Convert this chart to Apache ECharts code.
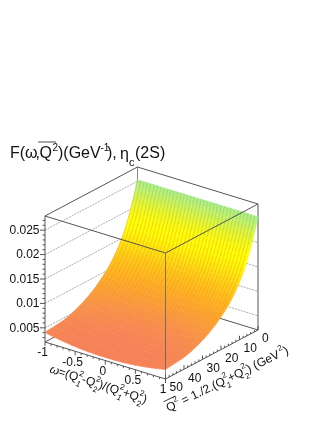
<!DOCTYPE html>
<html>
<head>
<meta charset="utf-8">
<style>html,body{margin:0;padding:0;background:#fff}#main{width:327px;height:423px}</style>
<script src="https://cdn.jsdelivr.net/npm/echarts@6/dist/echarts.min.js"></script>
</head>
<body>
<div id="main"></div>
<script>
// omega bins, left to right
var omegaValues = [-1, -0.9444, -0.8889, -0.8333, -0.7778, -0.7222, -0.6667, -0.6111, -0.5556, -0.5, -0.4444, -0.3889, -0.3333, -0.2778, -0.2222, -0.1667, -0.1111, -0.0556, 0,
    0.0556, 0.1111, 0.1667, 0.2222, 0.2778, 0.3333, 0.3889, 0.4444, 0.5, 0.5556, 0.6111, 0.6667, 0.7222, 0.7778, 0.8333, 0.8889, 0.9444, 1];
var qValues = [0, 1, 2, 3, 4, 5, 6, 7, 8, 9, 10, 12, 14, 16, 18, 20, 23, 26, 29, 32, 36, 40, 45, 50];

// F, in units of 1e-5 GeV^-1, one row per qValues entry
var surfaceValues = [
[2530,2530,2530,2530,2530,2530,2530,2530,2530,2530,2530,2530,2530,2530,2530,2530,2530,2530,2530,2530,2530,2530,2530,2530,2530,2530,2530,2530,2530,2530,2530,2530,2530,2530,2530,2530,2530],
[2370,2369,2368,2367,2366,2365,2364,2364,2363,2363,2362,2362,2361,2361,2360,2360,2360,2360,2360,2360,2360,2360,2360,2361,2361,2362,2362,2363,2363,2364,2364,2365,2366,2367,2368,2369,2370],
[2230,2227,2225,2222,2220,2218,2216,2214,2213,2211,2210,2209,2208,2207,2206,2206,2205,2205,2205,2205,2205,2206,2206,2207,2208,2209,2210,2211,2213,2214,2216,2218,2220,2222,2225,2227,2230],
[2090,2086,2082,2078,2074,2071,2068,2065,2062,2060,2058,2056,2054,2053,2052,2051,2050,2050,2050,2050,2050,2051,2052,2053,2054,2056,2058,2060,2062,2065,2068,2071,2074,2078,2082,2086,2090],
[1960,1954,1948,1943,1938,1934,1929,1926,1922,1919,1916,1913,1911,1909,1908,1907,1906,1905,1905,1905,1906,1907,1908,1909,1911,1913,1916,1919,1922,1926,1929,1934,1938,1943,1948,1954,1960],
[1840,1832,1825,1819,1812,1807,1801,1796,1792,1788,1784,1781,1778,1775,1773,1772,1771,1770,1770,1770,1771,1772,1773,1775,1778,1781,1784,1788,1792,1796,1801,1807,1812,1819,1825,1832,1840],
[1730,1721,1712,1704,1696,1689,1683,1677,1671,1666,1662,1658,1654,1652,1649,1647,1646,1645,1645,1645,1646,1647,1649,1652,1654,1658,1662,1666,1671,1677,1683,1689,1696,1704,1712,1721,1730],
[1630,1620,1610,1601,1592,1585,1577,1570,1564,1559,1554,1549,1546,1542,1540,1538,1536,1535,1535,1535,1536,1538,1540,1542,1546,1549,1554,1559,1564,1570,1577,1585,1592,1601,1610,1620,1630],
[1540,1529,1518,1508,1499,1490,1482,1474,1467,1461,1456,1451,1447,1443,1440,1438,1436,1435,1435,1435,1436,1438,1440,1443,1447,1451,1456,1461,1467,1474,1482,1490,1499,1508,1518,1529,1540],
[1460,1448,1436,1425,1415,1405,1396,1388,1381,1374,1368,1362,1358,1354,1351,1348,1346,1345,1345,1345,1346,1348,1351,1354,1358,1362,1368,1374,1381,1388,1396,1405,1415,1425,1436,1448,1460],
[1385,1372,1360,1348,1338,1328,1318,1310,1302,1295,1289,1283,1278,1274,1271,1268,1266,1265,1265,1265,1266,1268,1271,1274,1278,1283,1289,1295,1302,1310,1318,1328,1338,1348,1360,1372,1385],
[1250,1236,1223,1210,1199,1188,1178,1168,1160,1153,1146,1140,1134,1130,1126,1124,1122,1120,1120,1120,1122,1124,1126,1130,1134,1140,1146,1153,1160,1168,1178,1188,1199,1210,1223,1236,1250],
[1135,1120,1107,1094,1082,1070,1060,1050,1042,1034,1027,1020,1015,1010,1007,1004,1002,1000,1000,1000,1002,1004,1007,1010,1015,1020,1027,1034,1042,1050,1060,1070,1082,1094,1107,1120,1135],
[1035,1020,1006,992,980,968,957,947,938,930,923,916,911,906,902,899,897,895,895,895,897,899,902,906,911,916,923,930,938,947,957,968,980,992,1006,1020,1035],
[950,935,921,907,895,883,872,862,853,845,838,831,826,821,817,814,812,810,810,810,812,814,817,821,826,831,838,845,853,862,872,883,895,907,921,935,950],
[875,860,846,832,820,808,797,787,778,770,763,756,751,746,742,739,737,735,735,735,737,739,742,746,751,756,763,770,778,787,797,808,820,832,846,860,875],
[775,760,746,732,720,708,697,687,678,670,663,656,651,646,642,639,637,635,635,635,637,639,642,646,651,656,663,670,678,687,697,708,720,732,746,760,775],
[690,675,661,647,635,623,612,602,593,585,578,571,566,561,557,554,552,550,550,550,552,554,557,561,566,571,578,585,593,602,612,623,635,647,661,675,690],
[620,605,591,577,565,553,542,532,523,515,508,501,496,491,487,484,482,480,480,480,482,484,487,491,496,501,508,515,523,532,542,553,565,577,591,605,620],
[560,545,531,517,505,493,482,472,463,455,448,441,436,431,427,424,422,420,420,420,422,424,427,431,436,441,448,455,463,472,482,493,505,517,531,545,560],
[495,480,466,452,440,428,417,407,398,390,383,376,371,366,362,359,357,355,355,355,357,359,362,366,371,376,383,390,398,407,417,428,440,452,466,480,495],
[450,435,421,407,395,383,372,362,353,345,338,331,326,321,317,314,312,310,310,310,312,314,317,321,326,331,338,345,353,362,372,383,395,407,421,435,450],
[428,413,399,385,373,361,350,340,331,323,316,309,304,299,295,292,290,288,288,288,290,292,295,299,304,309,316,323,331,340,350,361,373,385,399,413,428],
[405,390,377,364,352,340,330,320,312,304,297,290,285,280,277,274,272,270,270,270,272,274,277,280,285,290,297,304,312,320,330,340,352,364,377,390,405]
];

var zTicks = [0.005, 0.01, 0.015, 0.02, 0.025];
var zTickLabels = ['0.005', '0.01', '0.015', '0.02', '0.025'];
var zMinorTicks = [0.003, 0.004, 0.006, 0.007, 0.008, 0.009, 0.011, 0.012, 0.013, 0.014, 0.016, 0.017, 0.018, 0.019, 0.021, 0.022, 0.023, 0.024, 0.026, 0.027];
var omegaTicks = [-1, -0.5, 0, 0.5, 1];
var omegaTickLabels = ['-1', '-0.5', '0', '0.5', '1'];
var omegaMinorTicks = [-0.9, -0.8, -0.7, -0.6, -0.4, -0.3, -0.2, -0.1, 0.1, 0.2, 0.3, 0.4, 0.6, 0.7, 0.8, 0.9];
var qTicks = [0, 10, 20, 30, 40, 50];
var qTickLabels = ['0', '10', '20', '30', '40', '50'];
var qMinorTicks = [2, 4, 6, 8, 12, 14, 16, 18, 22, 24, 26, 28, 32, 34, 36, 38, 42, 44, 46, 48];

var zMin = 0.0021, zMax = 0.0279;
var bandColors = ['#f87e5a', '#f8815a', '#f98a50', '#fa9445', '#fc9f36', '#fea926', '#ffb51c', '#ffc116',
    '#ffd010', '#ffe20a', '#fff105', '#ffff00', '#ffff00', '#f2fd12', '#e2fb2a', '#cbf94c', '#b4f674', '#a0f48f', '#94f29e', '#94f29e'];

var font = 'Liberation Sans';
var axisColor = '#555';
var chartDom = document.getElementById('main');
var myChart = echarts.init(chartDom);

// simple parallel projection
function project(omega, q, f) {
    var u = (omega + 1) / 2;
    var v = q / 50;
    var h = (f - zMin) / (zMax - zMin);
    return [137.5 + u * 120.5 - v * 92.5, 293 + u * 37 + v * 49 - h * 126];
}

function band(f) {
    var h = (f - zMin) / (zMax - zMin);
    return echarts.color.lerp(Math.max(0, Math.min(1, h)), bandColors);
}

var cells = [];
for (var r = 0; r < qValues.length - 1; r++) {
    for (var c = 0; c < omegaValues.length - 1; c++) {
        cells.push([omegaValues[c], omegaValues[c + 1], qValues[r], qValues[r + 1],
            surfaceValues[r][c] * 1e-5, surfaceValues[r][c + 1] * 1e-5,
            surfaceValues[r + 1][c] * 1e-5, surfaceValues[r + 1][c + 1] * 1e-5]);
    }
}

function renderCell(params, api) {
    var o0 = api.value(0), o1 = api.value(1), q0 = api.value(2), q1 = api.value(3);
    var a = api.coord(project(o0, q0, api.value(4)));
    var b = api.coord(project(o1, q0, api.value(5)));
    var d = api.coord(project(o0, q1, api.value(6)));
    var e = api.coord(project(o1, q1, api.value(7)));
    var fade = new echarts.graphic.LinearGradient(a[0], a[1], d[0], d[1], [
        { offset: 0, color: band((api.value(4) + api.value(5)) / 2) },
        { offset: 1, color: band((api.value(6) + api.value(7)) / 2) }
    ], true);
    return {
        type: 'group',
        children: [{
            type: 'polygon',
            shape: { points: [a, b, e, d] },
            style: { fill: fade, stroke: fade, lineWidth: 0.5 }
        }, {
            type: 'line',
            shape: { x1: a[0], y1: a[1], x2: d[0], y2: d[1] },
            style: { stroke: 'rgba(225,125,45,0.45)', lineWidth: 0.8 }
        }]
    };
}

function seg(api, p, q, color, dash, width) {
    var a = api.coord(p), b = api.coord(q);
    return {
        type: 'line',
        shape: { x1: a[0], y1: a[1], x2: b[0], y2: b[1] },
        style: { stroke: color || axisColor, lineWidth: width || 1, lineDash: dash || null }
    };
}

function renderBack(params, api) {
    var out = [];
    zTicks.forEach(function (t) {
        out.push(seg(api, project(-1, 50, t), project(-1, 0, t), '#aaa', [2, 1]));
        out.push(seg(api, project(-1, 0, t), project(1, 0, t), '#aaa', [2, 1]));
    });
    out.push(seg(api, project(-1, 50, zMin), project(-1, 0, zMin)));
    out.push(seg(api, project(-1, 0, zMin), project(1, 0, zMin)));
    out.push(seg(api, project(-1, 0, zMin), project(-1, 0, zMax), '#888'));
    out.push(seg(api, project(-1, 50, zMax), project(-1, 0, zMax)));
    out.push(seg(api, project(-1, 0, zMax), project(1, 0, zMax)));
    out.push(seg(api, project(1, 0, zMin), project(1, 0, zMax)));
    out.push(seg(api, project(-1, 50, zMin), project(-1, 50, zMax)));
    return { type: 'group', children: out };
}

function tickText(api, p, dx, dy, text, align) {
    var a = api.coord(p);
    return {
        type: 'text',
        x: a[0] + dx,
        y: a[1] + dy,
        style: { text: text, fontFamily: font, fontSize: 12, fill: '#111', align: align, verticalAlign: 'middle' }
    };
}

function renderFront(params, api) {
    var out = [];
    out.push(seg(api, project(-1, 50, zMax), project(1, 50, zMax)));
    out.push(seg(api, project(1, 50, zMax), project(1, 0, zMax)));
    out.push(seg(api, project(1, 50, zMin), project(1, 50, zMax), 'rgba(80,80,80,0.65)'));
    out.push(seg(api, project(-1, 50, zMin), project(1, 50, zMin)));
    out.push(seg(api, project(1, 50, zMin), project(1, 0, zMin)));
    function tick(p, dx, dy) {
        out.push(seg(api, p, [p[0] + dx, p[1] + dy]));
    }
    zTicks.forEach(function (t, i) {
        var p = project(-1, 50, t);
        tick(p, -5, 0);
        out.push(tickText(api, p, -5.5, 0.5, zTickLabels[i], 'right'));
    });
    zMinorTicks.forEach(function (t) { tick(project(-1, 50, t), -2.5, 0); });
    omegaTicks.forEach(function (t, i) {
        var p = project(t, 50, zMin);
        tick(p, 0, 4);
        out.push(tickText(api, p, -2.5, 11, omegaTickLabels[i], 'center'));
    });
    omegaMinorTicks.forEach(function (t) { tick(project(t, 50, zMin), 0, 2); });
    qTicks.forEach(function (t, i) {
        var p = project(1, t, zMin);
        tick(p, 0, -4);
        out.push(tickText(api, p, 4, 9, qTickLabels[i], 'left'));
    });
    qMinorTicks.forEach(function (t) { tick(project(1, t, zMin), 0, -2); });
    return { type: 'group', children: out };
}

function piece(text, x, y, size, italic) {
    return {
        type: 'text',
        x: x,
        y: y,
        style: { text: text, fontFamily: font, fontSize: size, fontStyle: italic ? 'italic' : 'normal', fill: '#111', verticalAlign: 'middle' }
    };
}

function bar(x1, x2, y) {
    return { type: 'line', shape: { x1: x1, y1: y, x2: x2, y2: y }, style: { stroke: '#222', lineWidth: 0.8 } };
}

var titleParts = [
    piece('F(', 10, 154, 16), piece('\u03c9', 25, 154, 16), piece(',', 35.5, 154, 16), piece('Q', 39.5, 154, 16),
    bar(38, 56, 142), piece('2', 52.5, 148, 10), piece(')(GeV', 58, 154, 16), piece('-1', 100.5, 148, 10),
    piece('),', 107, 154, 16), piece('\u03b7', 120, 155, 16), piece('c', 129, 163, 11), piece('(2S)', 135, 154, 16)
];

var omegaTitleParts = [
    piece('\u03c9', 0, 0, 12, true), piece('=(Q', 9, 0, 12), piece('2', 29.3, -5, 8), piece('1', 29.3, 6, 8, true),
    piece('-Q', 33.8, 0, 12), piece('2', 47.1, -5, 8), piece('2', 47.1, 6, 8), piece(')/(Q', 51.6, 0, 12),
    piece('2', 72.2, -5, 8), piece('1', 72.2, 6, 8, true), piece('+Q', 76.7, 0, 12), piece('2', 93, -5, 8),
    piece('2', 93, 6, 8), piece(')', 97.5, 0, 12)
];

var qTitleParts = [
    piece('Q', 0, 0, 12), bar(0, 13, -8), piece('2', 9.3, -5, 8), piece(' = 1./2.(Q', 13.8, 0, 12),
    piece('2', 64, -5, 8), piece('1', 64, 6, 8, true), piece('+Q', 68.5, 0, 12), piece('2', 84.8, -5, 8),
    piece('2', 84.8, 6, 8), piece(') (GeV', 89.3, 0, 12), piece('2', 125.9, -5, 8), piece(')', 130.4, 0, 12)
];

var option = {
    animation: false,
    grid: { left: 0, right: 0, top: 0, bottom: 0 },
    xAxis: { type: 'value', min: 0, max: 327, show: false },
    yAxis: { type: 'value', min: 0, max: 423, inverse: true, show: false },
    graphic: [
        { type: 'group', x: 0, y: 0, silent: true, children: titleParts },
        { type: 'group', x: 50, y: 369, rotation: -18 * Math.PI / 180, silent: true, children: omegaTitleParts },
        { type: 'group', x: 167, y: 409, rotation: 26 * Math.PI / 180, silent: true, children: qTitleParts }
    ],
    series: [
        { type: 'custom', silent: true, coordinateSystem: 'cartesian2d', data: [[0, 0]], renderItem: renderBack, z: 1 },
        { type: 'custom', silent: true, coordinateSystem: 'cartesian2d', data: cells, encode: { x: 0, y: 2 }, renderItem: renderCell, z: 2, progressive: 0, clip: false },
        { type: 'custom', silent: true, coordinateSystem: 'cartesian2d', data: [[0, 0]], renderItem: renderFront, z: 3 }
    ]
};

myChart.setOption(option);
</script>
</body>
</html>
